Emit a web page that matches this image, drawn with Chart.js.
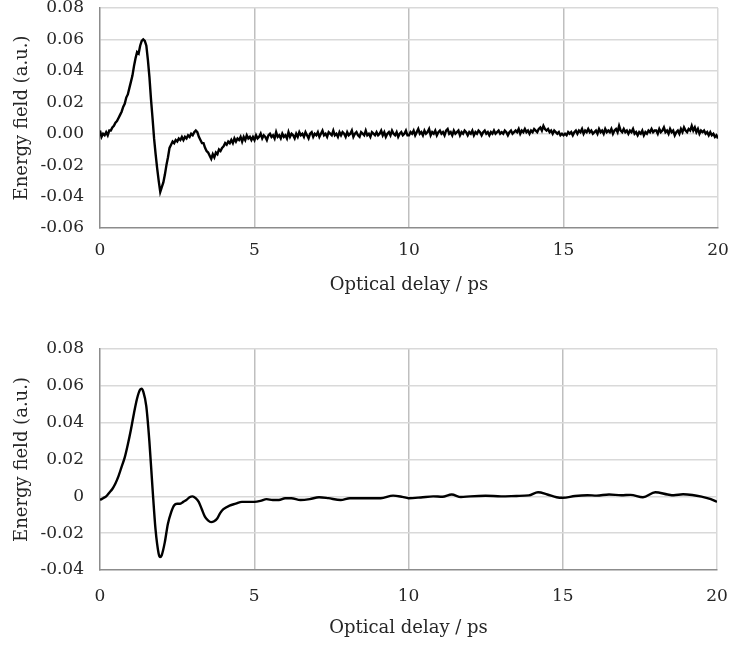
<!DOCTYPE html>
<html>
<head>
<meta charset="utf-8">
<script src="https://cdn.jsdelivr.net/npm/chart.js@4/dist/chart.umd.min.js"></script>
<style>
  body { margin: 0; background: #fff; }
  .box { position: absolute; left: 0; width: 731px; }
  #topBox { top: 0; height: 300px; }
  #bottomBox { top: 300px; height: 348px; }
</style>
</head>
<body>
<div class="box" id="topBox"><canvas id="topChart"></canvas></div>
<div class="box" id="bottomBox"><canvas id="bottomChart"></canvas></div>
<script>
'use strict';

// measured signal (top), one value every 0.05 ps from 0 to 20 ps, one row per ps
const topField = [
  0.002, -0.002, 0.000, -0.001, 0.001, -0.001, 0.002, 0.002, 0.004, 0.005, 0.007, 0.008, 0.010, 0.012, 0.014, 0.017, 0.019, 0.023, 0.025, 0.029,
  0.033, 0.037, 0.043, 0.048, 0.052, 0.051, 0.056, 0.059, 0.060, 0.059, 0.056, 0.047, 0.036, 0.022, 0.010, -0.003, -0.013, -0.022, -0.030, -0.037,
  -0.034, -0.031, -0.026, -0.020, -0.015, -0.009, -0.007, -0.005, -0.006, -0.004, -0.005, -0.003, -0.004, -0.002, -0.004, -0.002, -0.003, -0.001, -0.002, 0.000,
  -0.001, 0.001, 0.002, 0.001, -0.002, -0.004, -0.006, -0.006, -0.009, -0.011, -0.012, -0.014, -0.016, -0.013, -0.015, -0.012, -0.013, -0.010, -0.011, -0.009,
  -0.008, -0.006, -0.007, -0.005, -0.006, -0.004, -0.006, -0.003, -0.005, -0.003, -0.004, -0.002, -0.005, -0.002, -0.004, -0.001, -0.003, -0.002, -0.004, -0.002,
  -0.004, -0.001, -0.003, -0.002, 0.000, -0.003, -0.001, -0.002, -0.004, -0.001, 0.000, -0.002, -0.001, -0.003, 0.001, -0.002, -0.001, -0.003, 0.000, -0.002,
  -0.001, -0.003, 0.001, -0.002, 0.000, -0.001, -0.003, 0.000, -0.002, 0.001, -0.001, 0.000, -0.002, 0.001, -0.001, -0.003, 0.000, 0.001, -0.002, 0.000,
  -0.001, 0.001, -0.002, 0.000, 0.002, -0.001, 0.000, -0.002, 0.001, 0.000, -0.001, 0.002, -0.001, 0.000, -0.002, 0.001, -0.001, 0.001, 0.000, -0.002,
  0.001, -0.001, 0.000, 0.002, -0.002, 0.000, 0.001, -0.001, -0.002, 0.001, 0.000, -0.001, 0.002, -0.001, 0.000, -0.002, 0.001, 0.000, -0.001, 0.001,
  -0.001, 0.000, 0.002, -0.001, 0.001, -0.002, 0.000, 0.001, -0.001, 0.002, 0.000, -0.001, 0.001, -0.002, 0.000, 0.001, -0.001, 0.000, 0.002, -0.001,
  -0.001, 0.001, 0.000, 0.002, -0.001, 0.001, 0.003, 0.000, 0.001, -0.001, 0.002, 0.000, 0.001, 0.003, -0.001, 0.001, 0.000, 0.002, -0.001, 0.001,
  0.002, 0.000, 0.001, -0.001, 0.002, 0.003, 0.000, 0.001, -0.001, 0.002, 0.000, 0.001, 0.002, -0.001, 0.001, 0.000, 0.002, 0.001, -0.001, 0.001,
  0.000, 0.002, -0.001, 0.001, 0.000, 0.002, 0.001, -0.001, 0.001, 0.002, 0.000, 0.001, -0.001, 0.001, 0.000, 0.002, 0.000, 0.001, 0.002, 0.000,
  0.001, 0.000, 0.002, 0.001, -0.001, 0.001, 0.002, 0.000, 0.001, 0.002, 0.001, 0.003, 0.000, 0.002, 0.001, 0.003, 0.001, 0.002, 0.000, 0.002,
  0.001, 0.003, 0.002, 0.001, 0.003, 0.004, 0.002, 0.005, 0.003, 0.002, 0.003, 0.001, 0.002, 0.000, 0.002, 0.001, 0.000, 0.001, -0.001, 0.000,
  -0.001, 0.000, -0.001, 0.001, 0.000, 0.001, -0.001, 0.001, 0.002, 0.000, 0.002, 0.001, 0.003, 0.000, 0.002, 0.001, 0.003, 0.001, 0.002, 0.000,
  0.001, 0.002, 0.000, 0.003, 0.001, 0.002, 0.000, 0.003, 0.001, 0.002, 0.001, 0.003, 0.000, 0.002, 0.003, 0.001, 0.005, 0.002, 0.001, 0.003,
  0.001, 0.002, 0.000, 0.002, 0.001, 0.003, 0.000, 0.001, -0.001, 0.001, 0.000, 0.002, -0.001, 0.001, 0.000, 0.002, 0.001, 0.003, 0.001, 0.002,
  0.002, 0.000, 0.003, 0.001, 0.002, 0.004, 0.001, 0.002, 0.000, 0.003, 0.001, 0.002, -0.001, 0.001, 0.002, 0.000, 0.003, 0.001, 0.004, 0.002,
  0.001, 0.003, 0.002, 0.005, 0.002, 0.004, 0.001, 0.003, 0.000, 0.002, 0.001, 0.002, 0.000, 0.001, -0.001, 0.001, -0.001, 0.000, -0.002, -0.001,
  -0.003
];
const topDelay = topField.map((_, i) => +(i * 0.05).toFixed(2));

// fitted / filtered signal (bottom)
const bottomDelay = [
  0.0, 0.1, 0.2, 0.3, 0.4, 0.5, 0.6, 0.7, 0.8, 0.9,
  1.0, 1.1, 1.2, 1.3, 1.35, 1.4, 1.5, 1.6, 1.7, 1.8,
  1.9, 1.95, 2.0, 2.1, 2.2, 2.3, 2.4, 2.5, 2.6, 2.7,
  2.8, 2.9, 3.0, 3.1, 3.2, 3.3, 3.4, 3.5, 3.6, 3.7,
  3.8, 3.9, 4.0, 4.2, 4.4, 4.6, 4.8, 5.0, 5.2, 5.4,
  5.6, 5.8, 6.0, 6.2, 6.5, 6.8, 7.1, 7.4, 7.8, 8.1,
  8.4, 8.8, 9.1, 9.5, 9.8, 10.0, 10.4, 10.8, 11.1, 11.4,
  11.7, 12.0, 12.5, 13.0, 13.5, 13.9, 14.2, 14.5, 14.8, 15.0,
  15.4, 15.8, 16.1, 16.5, 16.9, 17.2, 17.6, 18.0, 18.4, 18.6,
  18.9, 19.2, 19.5, 19.8, 20.0
];
const bottomField = [
  -0.002, -0.001, 0.000, 0.002, 0.004, 0.007, 0.011, 0.016, 0.021, 0.028,
  0.036, 0.045, 0.053, 0.058, 0.0585, 0.057, 0.049, 0.030, 0.005, -0.018,
  -0.031, -0.033, -0.032, -0.025, -0.015, -0.009, -0.005, -0.004, -0.004, -0.003,
  -0.002, -0.0005, 0.000, -0.001, -0.003, -0.007, -0.011, -0.013, -0.014, -0.0135,
  -0.012, -0.009, -0.007, -0.005, -0.004, -0.003, -0.003, -0.003, -0.0025, -0.0015,
  -0.002, -0.002, -0.001, -0.001, -0.002, -0.0015, -0.0005, -0.001, -0.002, -0.001,
  -0.001, -0.001, -0.001, 0.0004, -0.0003, -0.001, -0.0006, 0.000, -0.0002, 0.001,
  -0.0004, 0.000, 0.0003, 0.000, 0.0002, 0.0005, 0.0022, 0.001, -0.0005, -0.0008,
  0.0002, 0.0006, 0.0004, 0.001, 0.0006, 0.0008, -0.0005, 0.0022, 0.001, 0.0006,
  0.0011, 0.0007, -0.0002, -0.0015, -0.003
];

const xTicks = [0, 5, 10, 15, 20];
const topYRange = [-0.06, 0.08];
const bottomYRange = [-0.04, 0.08];
const xTitle = 'Optical delay / ps';
const yTitle = 'Energy field (a.u.)';

Chart.defaults.font.family = '"DejaVu Serif", serif';
Chart.defaults.color = '#262626';

function makeChart(canvasId, xs, ys, yRange, yLabel, smooth, pad, xHeight, xTickPad, xTitlePad) {
  const ctx = document.getElementById(canvasId).getContext('2d');
  return new Chart(ctx, {
    type: 'line',
    data: {
      datasets: [{
        data: xs.map((x, i) => ({x: x, y: ys[i]})),
        borderColor: '#000',
        borderWidth: smooth ? 2.4 : 2.4,
        pointRadius: 0,
        tension: smooth ? 0.4 : 0,
        cubicInterpolationMode: smooth ? 'monotone' : 'default',
        fill: false
      }]
    },
    options: {
      responsive: true,
      maintainAspectRatio: false,
      animation: false,
      layout: {padding: pad},
      plugins: {legend: {display: false}, tooltip: {enabled: false}},
      scales: {
        x: {
          type: 'linear',
          min: xTicks[0],
          max: xTicks[xTicks.length - 1],
          afterBuildTicks: (axis) => { axis.ticks = xTicks.map(v => ({value: v})); },
          ticks: {font: {size: 17}, padding: xTickPad, maxRotation: 0},
          grid: {
            drawTicks: false,
            lineWidth: 1.5,
            color: (c) => c.index === 0 ? 'rgba(0,0,0,0)' :
              (c.index === xTicks.length - 1 ? '#d9d9d9' : '#bfbfbf')
          },
          border: {color: '#8c8c8c', width: 1.5},
          title: {display: true, text: xTitle, font: {size: 18}, padding: {top: 0, bottom: xTitlePad}},
          afterFit: (axis) => {
            axis.height = xHeight;
            axis.paddingLeft = 0;
            axis.paddingRight = 0;
          }
        },
        y: {
          min: yRange[0],
          max: yRange[1],
          ticks: {
            stepSize: 0.02,
            font: {size: 17},
            padding: 16,
            callback: yLabel
          },
          grid: {
            drawTicks: false,
            lineWidth: 1.5,
            color: (c) => c.index === 0 ? 'rgba(0,0,0,0)' : '#d9d9d9'
          },
          border: {color: '#8c8c8c', width: 1.5},
          title: {display: true, text: yTitle, font: {size: 18}, padding: {top: 12, bottom: 0}},
          afterFit: (axis) => {
            axis.width = 100;
            // labels may stick out past the plot, the layout padding covers them
            axis.paddingTop = 0;
            axis.paddingBottom = 0;
          }
        }
      }
    }
  });
}

// top chart labels keep two decimals, bottom one writes zero as "0"
makeChart('topChart', topDelay, topField, topYRange,
  (v) => (Math.abs(v) < 1e-9 ? 0 : v).toFixed(2), false,
  {top: 8, right: 13, bottom: 0, left: 0}, 72, 12, 4);

makeChart('bottomChart', bottomDelay, bottomField, bottomYRange,
  (v) => Math.abs(v) < 1e-9 ? '0' : v.toFixed(2), true,
  {top: 49, right: 14, bottom: 0, left: 0}, 78, 16, 9);
</script>
</body>
</html>
